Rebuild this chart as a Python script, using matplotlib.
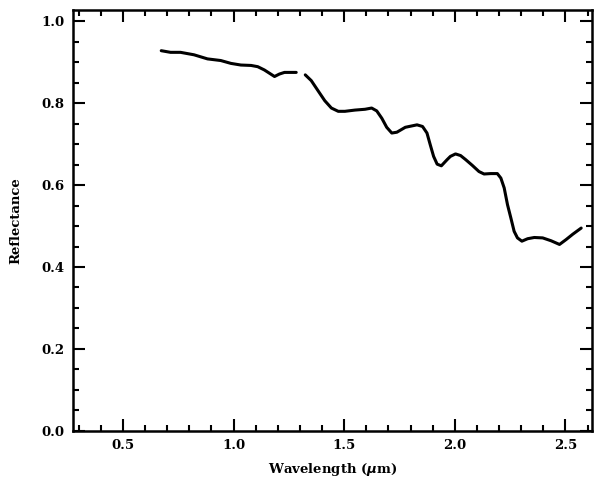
import numpy as np
import matplotlib.pyplot as plt
from matplotlib.ticker import MultipleLocator, FormatStrFormatter

#-------------------------------------
#-- Spectrum values
#-------------------------------------
wave_a = [0.673, 0.715, 0.760, 0.821, 0.882, 0.942, 0.988, 1.033, 1.079,
          1.109, 1.139, 1.162, 1.185, 1.207, 1.230, 1.283]
refl_a = [0.928, 0.924, 0.924, 0.918, 0.908, 0.904, 0.897, 0.893, 0.892,
          0.889, 0.881, 0.873, 0.865, 0.871, 0.875, 0.875]

wave_b = [1.324, 1.351, 1.382, 1.412, 1.442, 1.473, 1.503, 1.548, 1.594,
          1.624, 1.647, 1.670, 1.692, 1.715, 1.738, 1.776, 1.829, 1.854,
          1.874, 1.889, 1.904, 1.920, 1.939, 1.965, 1.980, 2.003, 2.026,
          2.049, 2.079, 2.109, 2.132, 2.162, 2.192, 2.208, 2.223, 2.238,
          2.253, 2.268, 2.283, 2.303, 2.329, 2.359, 2.397, 2.435, 2.473,
          2.503, 2.533, 2.571]
refl_b = [0.869, 0.855, 0.830, 0.806, 0.788, 0.780, 0.780, 0.783, 0.785,
          0.788, 0.781, 0.763, 0.741, 0.727, 0.729, 0.741, 0.747, 0.743,
          0.727, 0.698, 0.670, 0.651, 0.647, 0.662, 0.670, 0.676, 0.672,
          0.662, 0.648, 0.633, 0.627, 0.628, 0.628, 0.617, 0.593, 0.552,
          0.520, 0.487, 0.471, 0.463, 0.469, 0.472, 0.471, 0.464, 0.455,
          0.467, 0.480, 0.495]

x_ticks = [0.5, 1.0, 1.5, 2.0, 2.5]
y_ticks = [0.0, 0.2, 0.4, 0.6, 0.8, 1.0]

#------------------------
# Plot
#------------------------
plt.rcParams['font.family'] = 'DejaVu Serif'
plt.rcParams['font.weight'] = 'bold'

fig = plt.figure(figsize=(5.95, 4.83), dpi=100)
ax = fig.add_axes([0.123, 0.108, 0.872, 0.871])

ax.plot(wave_a, refl_a, color='black', lw=2.2, solid_capstyle='round',
        solid_joinstyle='round')
ax.plot(wave_b, refl_b, color='black', lw=2.2, solid_capstyle='round',
        solid_joinstyle='round')

ax.set_xlim(0.275, 2.62)
ax.set_ylim(0.0, 1.027)
ax.set_xticks(x_ticks)
ax.set_yticks(y_ticks)
ax.xaxis.set_minor_locator(MultipleLocator(0.1))
ax.yaxis.set_minor_locator(MultipleLocator(0.05))
ax.xaxis.set_major_formatter(FormatStrFormatter('%.1f'))
ax.yaxis.set_major_formatter(FormatStrFormatter('%.1f'))

ax.tick_params(which='both', direction='in', top=True, right=True,
               width=1.5, labelsize=9.5)
ax.tick_params(which='major', length=8.5, pad=6)
ax.tick_params(which='minor', length=4.3)
for s in ax.spines.values():
    s.set_linewidth(1.8)

ax.set_xlabel(r'Wavelength ($\mu$m)', fontsize=9.5, fontweight='bold', labelpad=6)
ax.set_ylabel('Reflectance', fontsize=9.5, fontweight='bold', labelpad=14)

plt.savefig('out.png', dpi=100)
